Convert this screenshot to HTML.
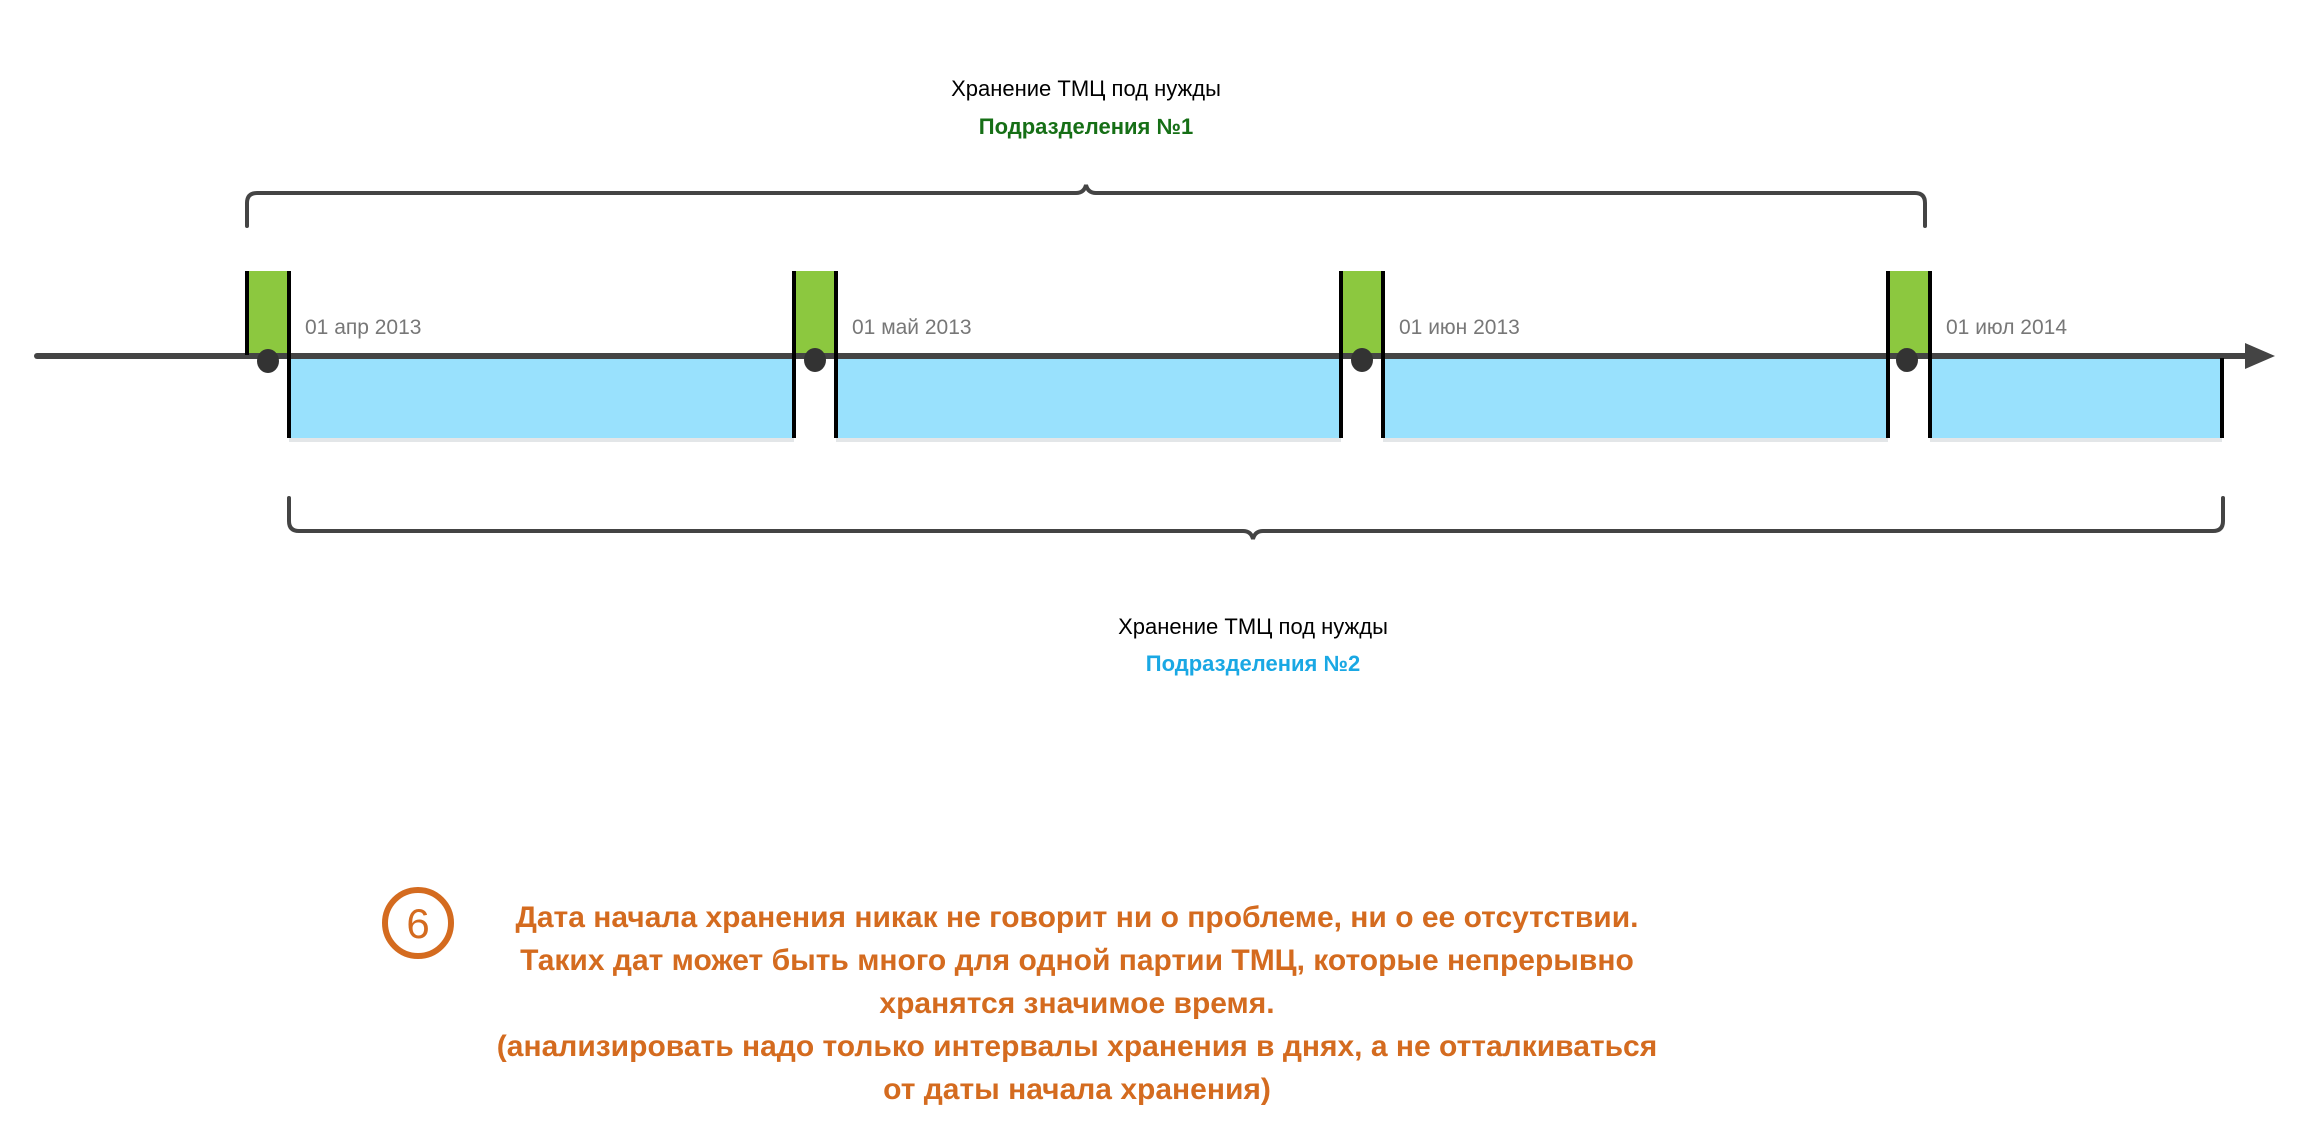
<!DOCTYPE html>
<html><head><meta charset="utf-8"><style>
body{margin:0;width:2298px;height:1138px;background:#fff;overflow:hidden;position:relative;font-family:"Liberation Sans",sans-serif}
.t{position:absolute;white-space:nowrap;transform:translateX(-50%);text-align:center}
</style></head><body>
<svg width="2298" height="1138" style="position:absolute;left:0;top:0">
<g fill="#8cc83f">
<rect x="247" y="271" width="42" height="84"/><rect x="794" y="271" width="42" height="84"/>
<rect x="1341" y="271" width="42" height="84"/><rect x="1888" y="271" width="42" height="84"/>
</g>
<g fill="#99e1fd">
<rect x="289" y="358" width="505" height="80"/><rect x="836" y="358" width="505" height="80"/>
<rect x="1383" y="358" width="505" height="80"/><rect x="1930" y="358" width="292" height="80"/>
</g>
<g fill="#e3e6e8">
<rect x="289" y="438" width="505" height="4"/><rect x="836" y="438" width="505" height="4"/>
<rect x="1383" y="438" width="505" height="4"/><rect x="1930" y="438" width="292" height="4"/>
</g>
<line x1="37" y1="356" x2="2250" y2="356" stroke="#444" stroke-width="6" stroke-linecap="round"/>
<polygon points="2245,343 2275,356 2245,369" fill="#444"/>
<g stroke="#000" stroke-width="4">
<line x1="247" y1="271" x2="247" y2="355"/><line x1="289" y1="271" x2="289" y2="438"/>
<line x1="794" y1="271" x2="794" y2="438"/><line x1="836" y1="271" x2="836" y2="438"/>
<line x1="1341" y1="271" x2="1341" y2="438"/><line x1="1383" y1="271" x2="1383" y2="438"/>
<line x1="1888" y1="271" x2="1888" y2="438"/><line x1="1930" y1="271" x2="1930" y2="438"/>
<line x1="2222" y1="358" x2="2222" y2="438"/>
</g>
<g fill="#333">
<ellipse cx="268" cy="361" rx="11" ry="12"/><ellipse cx="815" cy="360" rx="11" ry="12"/>
<ellipse cx="1362" cy="360" rx="11" ry="12"/><ellipse cx="1907" cy="360" rx="11" ry="12"/>
</g>
<g fill="none" stroke="#444" stroke-width="4" stroke-linecap="round">
<path d="M247,226 V203 Q247,193 257,193 H1076 Q1084,193 1086,185 Q1088,193 1096,193 H1915 Q1925,193 1925,203 V226"/>
<path d="M289,498 V521 Q289,531 299,531 H1243 Q1251,531 1253,539 Q1255,531 1263,531 H2213 Q2223,531 2223,521 V498"/>
</g>
<circle cx="418" cy="923" r="33" fill="#fff" stroke="#d46b1f" stroke-width="6"/>
<text x="418" y="938" font-family="Liberation Sans, sans-serif" font-size="42" fill="#d46b1f" text-anchor="middle">6</text>
</svg>
<div class="t" style="left:1086px;top:76px;font-size:22px;color:#000">Хранение ТМЦ под нужды</div>
<div class="t" style="left:1086px;top:114px;font-size:22px;color:#166f16;font-weight:bold">Подразделения №1</div>
<div class="t" style="left:1253px;top:614px;font-size:22px;color:#000">Хранение ТМЦ под нужды</div>
<div class="t" style="left:1253px;top:651px;font-size:22px;color:#1aa8e4;font-weight:bold">Подразделения №2</div>
<div style="position:absolute;left:305px;top:316px;font-size:21px;color:#777">01 апр 2013</div>
<div style="position:absolute;left:852px;top:316px;font-size:21px;color:#777">01 май 2013</div>
<div style="position:absolute;left:1399px;top:316px;font-size:21px;color:#777">01 июн 2013</div>
<div style="position:absolute;left:1946px;top:316px;font-size:21px;color:#777">01 июл 2014</div>
<div class="t" style="left:1077px;top:896px;font-family:'Liberation Sans Narrow','Liberation Sans',sans-serif;font-weight:bold;font-size:30px;line-height:43px;color:#d46b1f">
Дата начала хранения никак не говорит ни о проблеме, ни о ее отсутствии.<br>
Таких дат может быть много для одной партии ТМЦ, которые непрерывно<br>
хранятся значимое время.<br>
(анализировать надо только интервалы хранения в днях, а не отталкиваться<br>
от даты начала хранения)</div>
</body></html>
